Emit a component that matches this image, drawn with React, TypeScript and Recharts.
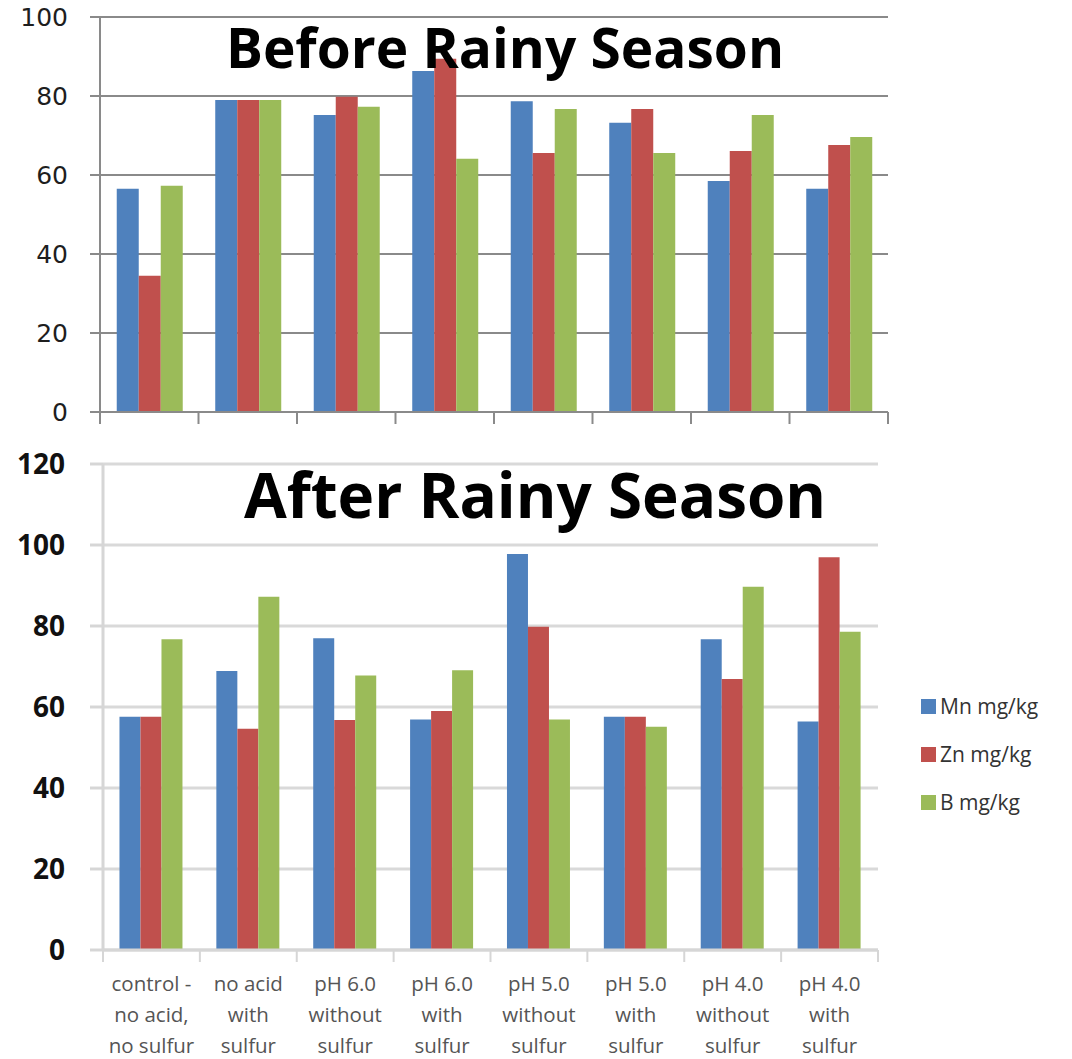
import React from 'react';
import { BarChart, Bar, XAxis, YAxis, CartesianGrid } from 'recharts';

// Treatments (x categories) and their wrapped label lines
const categories = [
  'control - no acid, no sulfur',
  'no acid with sulfur',
  'pH 6.0 without sulfur',
  'pH 6.0 with sulfur',
  'pH 5.0 without sulfur',
  'pH 5.0 with sulfur',
  'pH 4.0 without sulfur',
  'pH 4.0 with sulfur',
];
const categoryLines = [
  ['control -', 'no acid,', 'no sulfur'],
  ['no acid', 'with', 'sulfur'],
  ['pH 6.0', 'without', 'sulfur'],
  ['pH 6.0', 'with', 'sulfur'],
  ['pH 5.0', 'without', 'sulfur'],
  ['pH 5.0', 'with', 'sulfur'],
  ['pH 4.0', 'without', 'sulfur'],
  ['pH 4.0', 'with', 'sulfur'],
];

const seriesNames = ['Mn mg/kg', 'Zn mg/kg', 'B mg/kg'];
const seriesColors = ['#4F81BD', '#C0504D', '#9BBB59'];

// Before rainy season (mg/kg)
const beforeMn = [56.5, 79, 75.2, 86.3, 78.7, 73.2, 58.5, 56.5];
const beforeZn = [34.5, 79, 79.8, 89.4, 65.6, 76.7, 66.1, 67.6];
const beforeB = [57.3, 79, 77.3, 64.1, 76.7, 65.6, 75.2, 69.6];

// After rainy season (mg/kg)
const afterMn = [57.6, 68.9, 77.0, 56.9, 97.8, 57.6, 76.7, 56.4];
const afterZn = [57.6, 54.6, 56.8, 59.0, 79.8, 57.6, 66.9, 97.0];
const afterB = [76.7, 87.2, 67.8, 69.1, 56.9, 55.1, 89.7, 78.6];

const beforeTicks = [0, 20, 40, 60, 80, 100];
const afterTicks = [0, 20, 40, 60, 80, 100, 120];

const build = (mn: number[], zn: number[], b: number[]) =>
  categories.map((c, i) => ({
    name: c,
    [seriesNames[0]]: mn[i],
    [seriesNames[1]]: zn[i],
    [seriesNames[2]]: b[i],
  }));

const beforeData = build(beforeMn, beforeZn, beforeB);
const afterData = build(afterMn, afterZn, afterB);

const W = 1072;

// x tick: marks at category boundaries (Excel style) plus optional wrapped labels
const makeTick = (band: number, stroke: string, tickLen: number, withLabels: boolean) =>
  (props: any) => {
    const { x, y, payload, index } = props;
    const idx = payload && typeof payload.index === 'number' ? payload.index : index;
    const half = band / 2;
    const lines = withLabels ? categoryLines[categories.indexOf(payload.value)] || [] : [];
    return (
      <g>
        <line x1={x - half} x2={x - half} y1={y} y2={y + tickLen} stroke={stroke} strokeWidth={2} />
        {idx === categories.length - 1 && (
          <line x1={x + half} x2={x + half} y1={y} y2={y + tickLen} stroke={stroke} strokeWidth={2} />
        )}
        {lines.map((l, k) => (
          <text
            key={k}
            x={x}
            y={y + 41 + k * 31}
            textAnchor="middle"
            fill="#555"
            fontFamily="'Open Sans', sans-serif"
            fontSize={20.5}
          >
            {l}
          </text>
        ))}
      </g>
    );
  };

const TopTick = makeTick(98.5, '#8a8a8a', 12, false);
const BottomTick = makeTick(96.875, '#d6d6d6', 12, true);

export default function App() {
  return (
    <div style={{ position: 'absolute', left: 0, top: 0, width: W, height: 1059, background: '#fff' }}>
      <div style={{ position: 'absolute', left: 0, top: 0 }}>
        <BarChart
          width={W}
          height={440}
          data={beforeData}
          margin={{ top: 17, right: 184, bottom: 0, left: 0 }}
          barCategoryGap="17%"
          barGap={0}
        >
          <CartesianGrid vertical={false} stroke="#8a8a8a" strokeWidth={2} />
          <XAxis
            dataKey="name"
            height={28}
            tickSize={0}
            tickMargin={0}
            axisLine={{ stroke: '#8a8a8a', strokeWidth: 2 }}
            tickLine={false}
            tick={TopTick}
            interval={0}
          />
          <YAxis
            width={100}
            domain={[0, 100]}
            ticks={beforeTicks}
            interval={0}
            tickSize={10}
            tickMargin={22}
            axisLine={{ stroke: '#8a8a8a', strokeWidth: 2 }}
            tickLine={{ stroke: '#8a8a8a', strokeWidth: 2 }}
            tick={{ fill: '#1e1e1e', fontFamily: "'DejaVu Sans', sans-serif", fontSize: 25 }}
          />
          {seriesNames.map((s, i) => (
            <Bar key={s} dataKey={s} fill={seriesColors[i]} isAnimationActive={false} />
          ))}
        </BarChart>
      </div>
      <div style={{ position: 'absolute', left: 0, top: 440 }}>
        <BarChart
          width={W}
          height={619}
          data={afterData}
          margin={{ top: 24, right: 194, bottom: 9, left: 0 }}
          barCategoryGap="17%"
          barGap={0}
        >
          <CartesianGrid vertical={false} stroke="#d9d9d9" strokeWidth={3} />
          <XAxis
            dataKey="name"
            height={100}
            tickSize={0}
            tickMargin={0}
            axisLine={{ stroke: '#d6d6d6', strokeWidth: 3 }}
            tickLine={false}
            tick={BottomTick}
            interval={0}
          />
          <YAxis
            width={103}
            domain={[0, 120]}
            ticks={afterTicks}
            interval={0}
            tickSize={13}
            tickMargin={25}
            axisLine={{ stroke: '#d6d6d6', strokeWidth: 3 }}
            tickLine={{ stroke: '#d6d6d6', strokeWidth: 3 }}
            tick={{ fill: '#111', fontFamily: "'Open Sans', sans-serif", fontWeight: 700, fontSize: 28 }}
          />
          {seriesNames.map((s, i) => (
            <Bar key={s} dataKey={s} fill={seriesColors[i]} isAnimationActive={false} />
          ))}
        </BarChart>
      </div>
      {/* Titles and legend drawn over the plots */}
      <svg width={W} height={1059} style={{ position: 'absolute', left: 0, top: 0, pointerEvents: 'none' }}>
        <text x={505} y={68} textAnchor="middle" fontFamily="'Open Sans', sans-serif" fontWeight={700} fontSize={55} fill="#000">
          Before Rainy Season
        </text>
        <text x={535} y={518} textAnchor="middle" fontFamily="'Open Sans', sans-serif" fontWeight={700} fontSize={62} fill="#000">
          After Rainy Season
        </text>
        {seriesNames.map((s, i) => (
          <g key={s}>
            <rect x={921} y={699 + i * 48} width={15} height={15} fill={seriesColors[i]} />
            <text x={940} y={714 + i * 48} fontFamily="'Open Sans', sans-serif" fontSize={21} fill="#333">
              {s}
            </text>
          </g>
        ))}
      </svg>
    </div>
  );
}
